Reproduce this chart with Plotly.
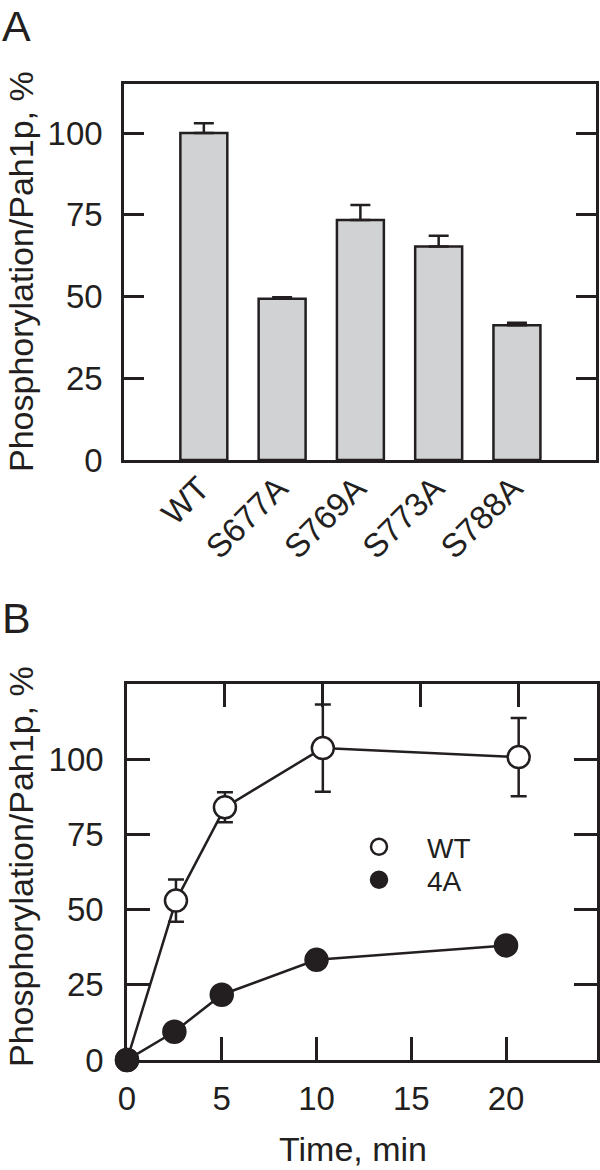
import plotly.graph_objects as go

# ---------------- data ----------------
mutants = ["WT", "S677A", "S769A", "S773A", "S788A"]
phos_pct = [100, 49.3, 73.4, 65.3, 41.2]
phos_err = [3, 0.5, 4.6, 3.3, 0.8]

time_min = [0, 2.5, 5, 10, 20]
wt_pct = [0, 53, 84, 103.7, 100.7]
wt_err = [0, 7, 5, 14.5, 13]
a4_pct = [0, 9.4, 21.7, 33.3, 38.1]

yticks = [0, 25, 50, 75, 100]
xticks_time = [0, 5, 10, 15, 20]

# ---------------- style ----------------
INK = "#231f20"
BAR = "#d1d2d4"
FONT = "Liberation Sans, Arial, sans-serif"
W, H = 600, 1170


def px(x):
    return x / W


def py(y):
    return 1 - y / H


fig = go.Figure()

# Panel A bars
fig.add_trace(go.Bar(
    x=mutants, y=phos_pct, width=0.6,
    marker=dict(color=BAR, line=dict(color=INK, width=2.5)),
    error_y=dict(type="data", array=phos_err, arrayminus=[0] * len(phos_err),
                 symmetric=False, color=INK, thickness=2.5, width=10),
    xaxis="x", yaxis="y", showlegend=False,
))

# Panel B: WT (open circles)
fig.add_trace(go.Scatter(
    x=time_min, y=wt_pct, mode="lines+markers", cliponaxis=False,
    line=dict(color=INK, width=2.5),
    marker=dict(symbol="circle", size=22, color="white", line=dict(color=INK, width=2.5)),
    error_y=dict(type="data", array=wt_err, color=INK, thickness=2.5, width=8),
    xaxis="x2", yaxis="y2", showlegend=False,
))
# Panel B: 4A (filled circles)
fig.add_trace(go.Scatter(
    x=time_min, y=a4_pct, mode="lines+markers", cliponaxis=False,
    line=dict(color=INK, width=2.5),
    marker=dict(symbol="circle", size=22, color=INK, line=dict(color=INK, width=2.5)),
    xaxis="x3", yaxis="y2", showlegend=False,
))

# legend entries
fig.add_trace(go.Scatter(
    x=[None], y=[None], mode="markers", name="WT",
    marker=dict(symbol="circle", size=22, color="white", line=dict(color=INK, width=2.5)),
    xaxis="x3", yaxis="y2", legend="legend",
))
fig.add_trace(go.Scatter(
    x=[None], y=[None], mode="markers", name="4A",
    marker=dict(symbol="circle", size=22, color=INK, line=dict(color=INK, width=2.5)),
    xaxis="x3", yaxis="y2", legend="legend2",
))

axis_common = dict(showline=True, linecolor=INK, linewidth=2.5, showgrid=False,
                   zeroline=False, tickcolor=INK, tickwidth=2.5, automargin=False,
                   tickfont=dict(family=FONT, size=33, color=INK))

legend_common = dict(xanchor="left", yanchor="middle", itemwidth=86, borderwidth=0,
                     font=dict(family=FONT, size=28, color=INK), bgcolor="rgba(0,0,0,0)")

fig.update_layout(
    width=W, height=H, margin=dict(l=0, r=0, t=0, b=0, pad=0, autoexpand=False),
    paper_bgcolor="white", plot_bgcolor="white",
    font=dict(family=FONT, color=INK),
    xaxis=dict(domain=[px(124), px(596)], anchor="y", type="category",
               range=[-1.02, 5.01], mirror=True, ticks="", tickangle=-45,
               ticklabelstandoff=-7, ticklabelshift=-4, **axis_common),
    yaxis=dict(domain=[py(460), py(84)], anchor="x", range=[0, 115],
               tickvals=yticks, ticks="inside", ticklen=20, mirror="ticks",
               ticklabelstandoff=12, **axis_common),
    xaxis2=dict(domain=[px(127), px(597)], anchor="y2", side="top", range=[0, 24],
                tickvals=xticks_time, ticks="inside", ticklen=23,
                showticklabels=False, **axis_common),
    xaxis3=dict(domain=[px(127), px(597)], anchor="y2", side="bottom", overlaying="x2",
                range=[0, 24.8], tickvals=xticks_time, ticks="inside", ticklen=23,
                ticklabelstandoff=8, **axis_common),
    yaxis2=dict(domain=[py(1060), py(684)], anchor="x2", range=[0, 125],
                tickvals=yticks, ticks="inside", ticklen=23, mirror="ticks",
                ticklabelstandoff=14, **axis_common),
    legend=dict(x=px(331), y=py(847), **legend_common),
    legend2=dict(x=px(331), y=py(880), **legend_common),
    annotations=[
        dict(text="A", x=0, y=1, xref="paper", yref="paper",
             xanchor="left", yanchor="top", showarrow=False,
             font=dict(family=FONT, size=43, color=INK)),
        dict(text="B", x=0, y=py(592), xref="paper", yref="paper",
             xanchor="left", yanchor="top", showarrow=False,
             font=dict(family=FONT, size=43, color=INK)),
        dict(text="Phosphorylation/Pah1p, %", x=px(21), y=py(272), xref="paper", yref="paper",
             xanchor="center", yanchor="middle", textangle=-90, showarrow=False,
             font=dict(family=FONT, size=34, color=INK)),
        dict(text="Phosphorylation/Pah1p, %", x=px(21), y=py(867), xref="paper", yref="paper",
             xanchor="center", yanchor="middle", textangle=-90, showarrow=False,
             font=dict(family=FONT, size=34, color=INK)),
        dict(text="Time, min", x=px(353), y=py(1149), xref="paper", yref="paper",
             xanchor="center", yanchor="middle", showarrow=False,
             font=dict(family=FONT, size=34, color=INK)),
    ],
)

fig.write_html("out.html", config={"displayModeBar": False},
               post_script="document.body.style.margin='0px';")
